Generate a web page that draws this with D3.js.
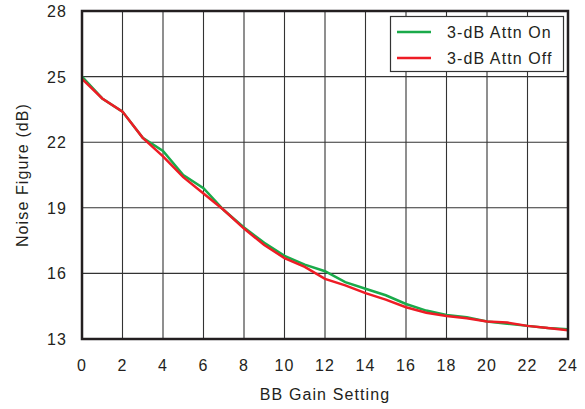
<!DOCTYPE html>
<html>
<head>
<meta charset="utf-8">
<script src="https://cdn.jsdelivr.net/npm/d3@7"></script>
<style>
  body { margin: 0; background: #fff; }
  text { font-family: "Liberation Sans", Arial, sans-serif; fill: #231f20; letter-spacing: 1.1px; }
</style>
</head>
<body>
<div id="chart"></div>
<script>
// BB gain settings
const gainSetting = d3.range(0, 25)
// noise figure, 3-dB attenuator on
const nfAttnOn = [25.0, 24.0, 23.4, 22.2, 21.6, 20.5, 19.9, 18.9, 18.1, 17.4, 16.8, 16.4, 16.1, 15.6, 15.3, 15.0, 14.6, 14.3, 14.1, 14.0, 13.8, 13.7, 13.6, 13.5, 13.45]
// noise figure, 3-dB attenuator off
const nfAttnOff = [24.9, 24.0, 23.4, 22.2, 21.35, 20.4, 19.65, 18.9, 18.05, 17.3, 16.7, 16.3, 15.75, 15.45, 15.1, 14.8, 14.45, 14.2, 14.05, 13.95, 13.8, 13.75, 13.6, 13.5, 13.4]
const xTicks = d3.range(0, 25, 2)
const yTicks = [13, 16, 19, 22, 25, 28]
const series = [
  {name: '3-dB Attn On', values: nfAttnOn, color: '#1aaa4a'},
  {name: '3-dB Attn Off', values: nfAttnOff, color: '#ee1c25'}
]

const width = 585
const height = 409
const margin = {top: 11, right: 17, bottom: 70, left: 82}

const svg = d3.select('#chart')
  .append('svg')
  .attr('width', width)
  .attr('height', height)

const x = d3.scaleLinear()
  .domain([0, 24])
  .range([margin.left, width - margin.right])
const y = d3.scaleLinear()
  .domain([13, 28])
  .range([height - margin.bottom, margin.top])

// grid
svg.append('g')
  .selectAll('line')
  .data(xTicks)
  .enter()
  .append('line')
  .attr('x1', d => x(d))
  .attr('x2', d => x(d))
  .attr('y1', y(13))
  .attr('y2', y(28))
  .style('stroke', '#333')
  .style('stroke-width', 1.1)
svg.append('g')
  .selectAll('line')
  .data(yTicks)
  .enter()
  .append('line')
  .attr('x1', x(0))
  .attr('x2', x(24))
  .attr('y1', d => y(d))
  .attr('y2', d => y(d))
  .style('stroke', '#333')
  .style('stroke-width', 1.1)

// tick labels
svg.append('g')
  .selectAll('text')
  .data(xTicks)
  .enter()
  .append('text')
  .attr('x', d => x(d))
  .attr('y', y(13) + 32)
  .attr('text-anchor', 'middle')
  .style('font-size', '16px')
  .text(d => d)
svg.append('g')
  .selectAll('text')
  .data(yTicks)
  .enter()
  .append('text')
  .attr('x', x(0) - 15)
  .attr('y', d => y(d) + 6)
  .attr('text-anchor', 'end')
  .style('font-size', '16px')
  .text(d => d)

// lines
const line = d3.line()
  .x((d, i) => x(gainSetting[i]))
  .y(d => y(d))
svg.append('g')
  .selectAll('path')
  .data(series)
  .enter()
  .append('path')
  .attr('d', d => line(d.values))
  .style('fill', 'none')
  .style('stroke', d => d.color)
  .style('stroke-width', 2.5)

// frame
svg.append('rect')
  .attr('x', x(0))
  .attr('y', y(28))
  .attr('width', x(24) - x(0))
  .attr('height', y(13) - y(28))
  .style('fill', 'none')
  .style('stroke', '#231f20')
  .style('stroke-width', 2.5)

// axis titles
svg.append('text')
  .attr('x', (x(0) + x(24)) / 2)
  .attr('y', 400)
  .attr('text-anchor', 'middle')
  .style('font-size', '16px')
  .text('BB Gain Setting')
svg.append('text')
  .attr('transform', `translate(28,${(y(13) + y(28)) / 2}) rotate(-90)`)
  .attr('text-anchor', 'middle')
  .style('font-size', '16px')
  .text('Noise Figure (dB)')

// legend
const legend = svg.append('g')
legend.append('rect')
  .attr('x', 390.5)
  .attr('y', 16.5)
  .attr('width', 173)
  .attr('height', 55)
  .style('fill', '#fff')
  .style('stroke', '#333')
  .style('stroke-width', 1.2)
const item = legend.selectAll('g')
  .data(series)
  .enter()
  .append('g')
  .attr('transform', (d, i) => `translate(397,${32 + i * 26})`)
item.append('line')
  .attr('x1', 0)
  .attr('x2', 34)
  .style('stroke', d => d.color)
  .style('stroke-width', 2.5)
item.append('text')
  .attr('x', 50)
  .attr('y', 6)
  .style('font-size', '16px')
  .text(d => d.name)
</script>
</body>
</html>
